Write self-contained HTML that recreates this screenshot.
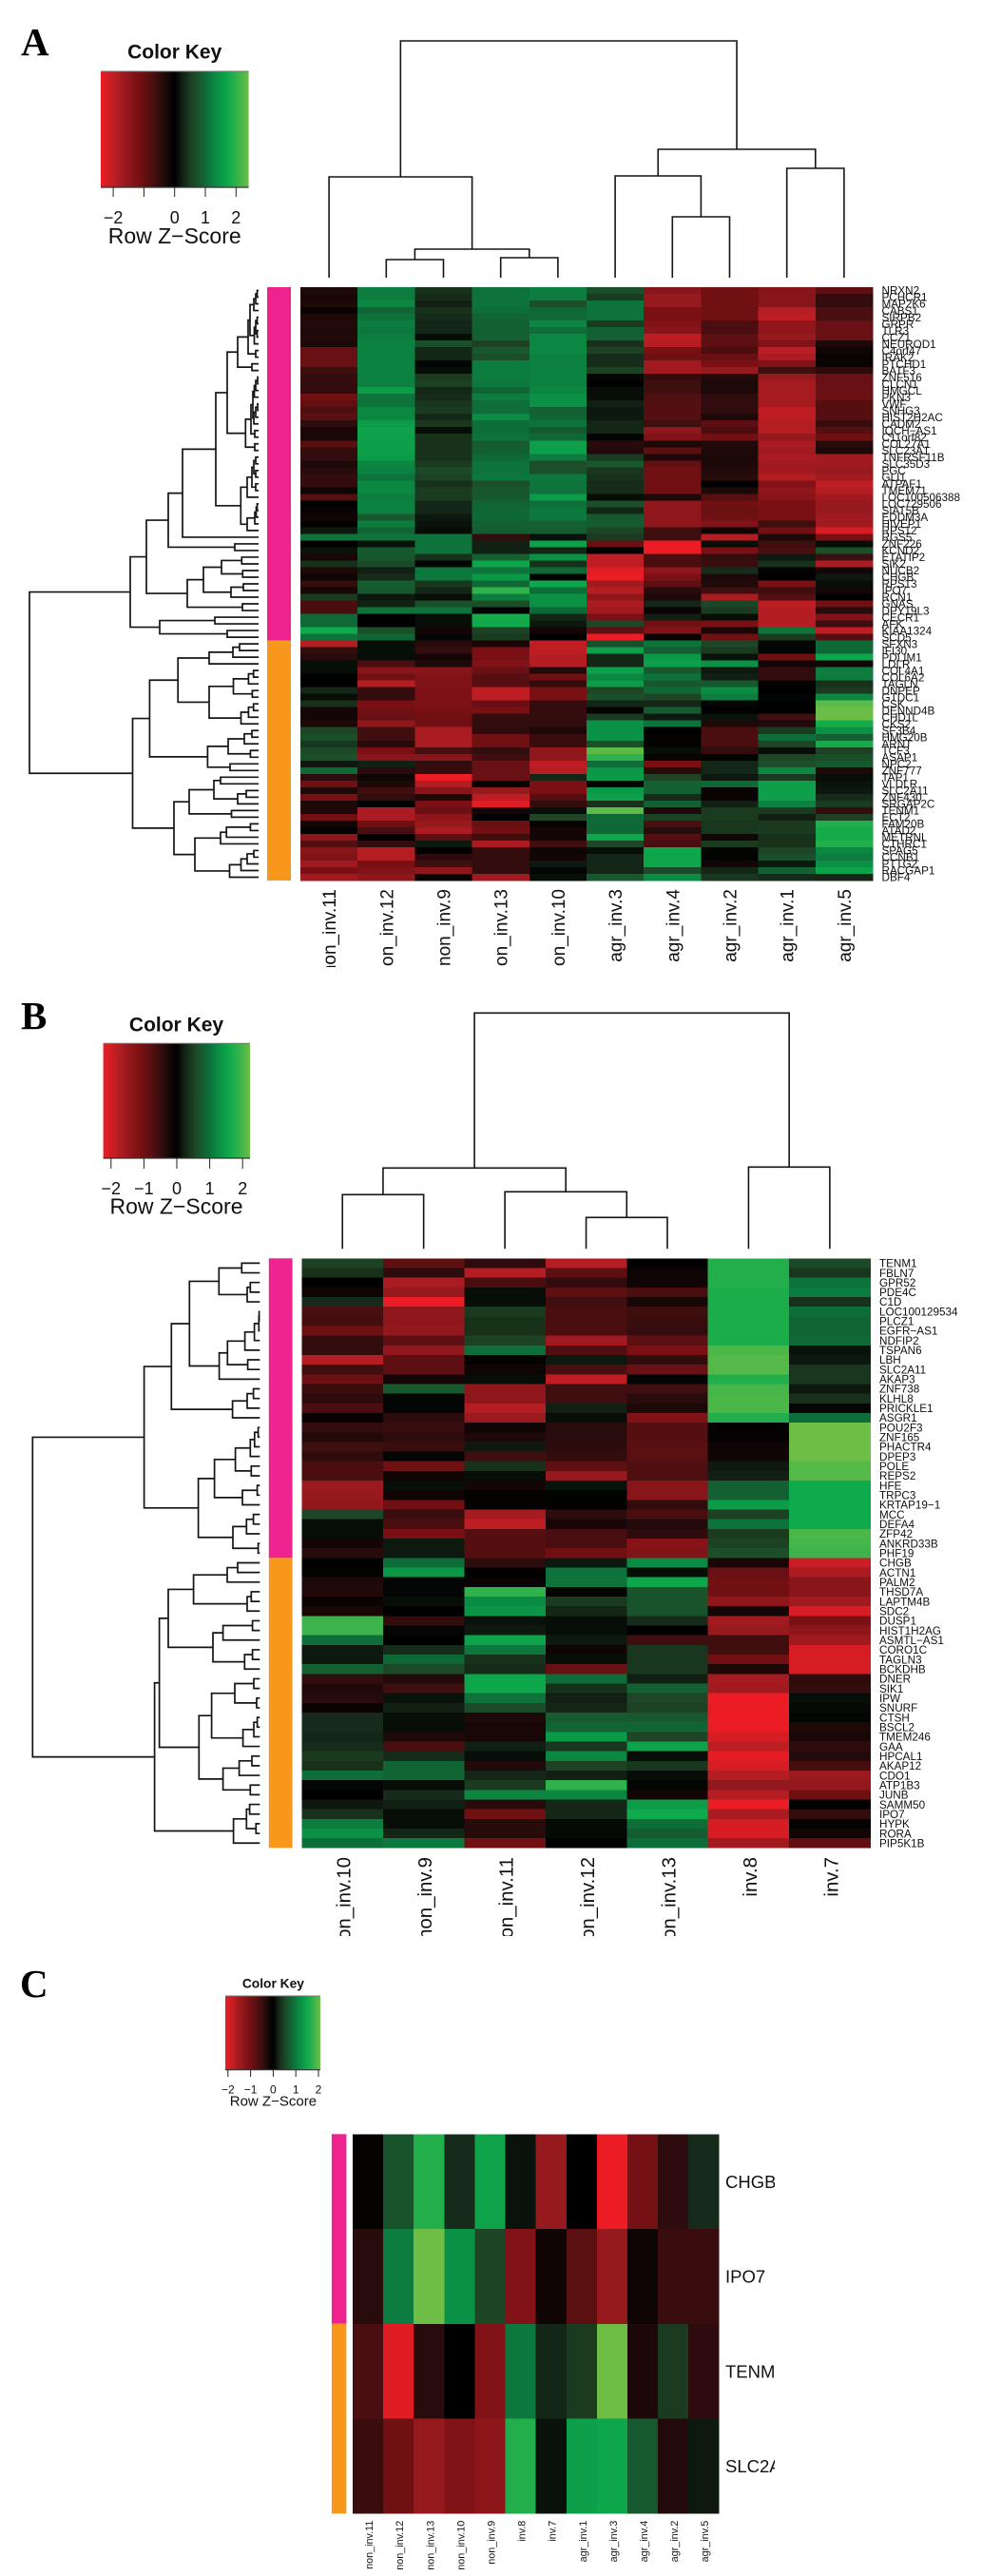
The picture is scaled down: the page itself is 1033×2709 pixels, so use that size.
<!DOCTYPE html>
<html lang="en">
<head>
<meta charset="utf-8">
<title>Heatmaps A, B and C with row and column dendrograms</title>
<style>
html,body{margin:0;padding:0;background:#fff;}
svg{display:block;font-family:"Liberation Sans",sans-serif;}
.letter{font-family:"Liberation Serif",serif;font-weight:bold;font-size:41px;fill:#000;}
</style>
</head>
<body>
<svg id="figure" width="1033" height="2709" viewBox="0 0 1033 2709">
<rect x="0" y="0" width="1033" height="2709" fill="#fff"/>
<defs id="defs">
<clipPath id="clip-cols-a"><rect x="300" y="926" width="640" height="91"/></clipPath>
<clipPath id="clip-cols-b"><rect x="300" y="1944" width="640" height="92"/></clipPath>
<clipPath id="clip-cols-c"><rect x="360" y="2644" width="410" height="59"/></clipPath>
<clipPath id="clip-rows-c"><rect x="757" y="2240" width="58" height="410"/></clipPath>
</defs>
<text class="letter" x="22" y="58">A</text>
<text class="letter" x="22" y="1082">B</text>
<text class="letter" x="21" y="2100">C</text>
</svg>
<script>
/* ---------- Panel A data ---------- */
const rowLabelsA = ["NRXN2","PCHCR1","MAP2K6","CABS1","SIRPB2","GRPR","TLR3","CCZ1","NEUROD1","C4orf47","IRAK2","PTCHD1","BATF3","ZNF516","CLCN1","HMGCL","PKN3","VWF","SNHG3","HIST2H2AC","CADM2","IQCH−AS1","C11orf82","COL27A1","SLC23A1","TNFRSF11B","SLC35D3","PGC","GLI1","ATPAF1","TMEM71","LOC100506388","LOC729506","SIAT5B","EDDM3A","HIVEP1","RPS12","RGS5","ZNF226","KCND2","ETATIP2","SIK2","NUCB2","CHGB","RPS13","IPO7","RCN1","GNAS","DPY19L3","CECR1","AFK","KIAA1324","SCD5","SFXN3","IFI30","PDLIM1","LDLR","COL4A1","COL6A2","TAGLN","DNPEP","GTDC1","CSK","DENND4B","CHD1L","CKS2","SF3B4","HMG20B","ARNT","TCF3","ASAP1","NPC2","ZNF777","TAP1","VLDLR","SLC2A11","ZNF430","SRGAP2C","TENM1","ECT2","FAM20B","ATAD2","METRNL","CTHRC1","SPAG5","CCNB1","PTTG2","RACGAP1","DBF4"];
const colLabelsA = ["non_inv.11","non_inv.12","non_inv.9","non_inv.13","non_inv.10","agr_inv.3","agr_inv.4","agr_inv.2","agr_inv.1","agr_inv.5"];
const groupCountsA = [53,36];
const keyTicksA = [-2,-1,0,1,2];
const keyTickLabelsA = ["−2","","0","1","2"];
const valuesA = [
[-.3,1.2,.4,1.1,1.2,.7,-1.4,-1.1,-1.4,-.9],
[-.25,1.2,.35,1.1,1.2,.5,-1.6,-1.1,-1.4,-.5],
[-.3,1.3,.25,1.1,.7,1.1,-1.6,-1.1,-1.4,-.5],
[-.1,.95,.4,1.05,1,1.1,-1.2,-1.1,-1.9,-.7],
[-.3,1.1,.35,.95,1,1.1,-1.2,-1.1,-2,-.7],
[-.35,1.2,.3,.9,1.3,.5,-1.3,-.7,-1.5,-1],
[-.3,1.15,.3,.9,1.05,.9,-1.4,-.7,-1.5,-1],
[-.35,1.2,.1,.9,1.3,.9,-2,-.9,-1.6,-1],
[-.3,1.25,.7,.55,1.3,.4,-1.9,-.9,-1.3,-.3],
[-1,1.25,.3,.8,1.3,.55,-1.2,-.7,-2,-.15],
[-1,1.25,.3,.7,1.25,.35,-1.1,-1,-1.8,-.1],
[-1,1.25,.05,1.2,1.25,.35,-1.7,-1.2,-1.3,-.1],
[-.6,1.25,.1,1.2,1.25,.55,-1.7,-1.6,-.6,-.45],
[-.5,1.25,.5,1.2,1.25,.05,-.5,-.35,-1.6,-1],
[-.5,1.25,.55,1.15,1.25,0,-.6,-.3,-1.75,-1],
[-.5,1.55,.3,.95,1.3,.1,-.6,-.3,-1.75,-1],
[-1.1,1.1,.35,1.2,1.4,.1,-.75,-.45,-1.75,-1.05],
[-.95,1.1,.45,1.05,1.4,.25,-.8,-.5,-1.75,-.8],
[-.75,1.3,.5,1.05,.9,.2,-.8,-.45,-2,-.8],
[-.85,1.3,.3,1.35,.95,.2,-.8,-.3,-2,-.8],
[-.45,1.55,.45,1.05,1.1,.3,-.6,-.9,-1.9,-.55],
[-.25,1.65,.1,1.05,.8,.3,-1.5,-.7,-1.9,-.8],
[-.25,1.6,.4,1.1,1,.05,-1.3,-1.1,-1.6,-1.1],
[-.85,1.6,.4,.85,1.6,-.4,-.3,-.35,-1.8,-.4],
[-.5,1.6,.4,.9,1.6,-.35,-.9,-.3,-1.7,-.3],
[-.5,1.55,.4,1,1.2,.5,-.3,-.3,-1.8,-1.7],
[-.3,1.3,.5,1.1,.7,.8,-.95,-.3,-1.7,-1.7],
[-.4,1.25,.65,1.1,.7,.45,-1.1,-.35,-1.7,-1.6],
[-.5,1.1,.55,1.15,1.15,.4,-1.1,-.4,-1.9,-1.7],
[-.5,1.3,.4,.7,1.1,.35,-1.1,0,-1.3,-2],
[-.15,1.3,.5,.8,1.1,.35,-1.1,-.3,-1.5,-1.9],
[-.8,1.2,.5,.8,1.55,.1,-.3,-.8,-1.4,-1.7],
[0,1.25,.3,.95,1.05,.7,-1.5,-1.1,-1.2,-1.6],
[-.1,1.25,.3,1,1.15,.3,-1.5,-1,-1.2,-1.6],
[-.15,.8,.2,1,1.15,.8,-1.5,-1.1,-1.2,-1.7],
[-.05,1.2,.15,.9,.9,.85,-1.5,-1.3,-.6,-1.7],
[.2,.95,.1,.85,.85,.6,-.6,-.15,-1.1,-2.2],
[1.1,1.1,1.1,-.5,.15,.5,-.6,-1.9,-.3,-1.2],
[0,.15,1.1,.25,1.6,-1,-2.4,.1,-.6,.1],
[.15,.8,1.1,.25,.3,0,-2.4,-1.2,-.7,.7],
[-.25,.8,.4,.9,1.4,-2,-.7,-.5,.2,-.6],
[.4,.65,.05,1.7,.4,-2,-.7,-.55,.4,-1.8],
[-.3,.25,1.15,1.1,1,-2.3,-1.5,.35,-.05,-.2],
[-.15,.35,1.15,1.5,.05,-2.4,-1.2,-.3,0,.2],
[-.5,.85,.45,1,1.7,-1.7,-.9,-.35,-1.2,.1],
[-.25,.8,.3,2,1.05,-1.9,-.4,-.6,-.6,-.2],
[.5,.2,.1,1.2,1.4,-1.5,-.3,-1.8,-.8,0],
[-.7,.25,.7,.7,1.4,-1.8,.3,.6,-2,-1.1],
[-.7,1.1,1.1,0,1,-1.7,-.1,.5,-1.9,-.4],
[1,0,.1,1.8,.3,-1.2,.25,.1,-1.9,-1.3],
[1,0,.1,1.75,.2,.6,-1.1,-1.2,-1.9,-.6],
[1.75,.7,-.2,.55,-.2,-.9,-1.3,-.25,1.1,-2],
[1.1,.95,.05,.5,0,-2.4,.05,-1.1,.5,-.8],
[-1.9,.1,-.4,-.25,-2,.7,1.1,.6,.05,1],
[-.5,.1,-.5,-1.2,-2,1.6,.85,.5,.05,1],
[-.4,.1,-.2,-1.2,-1.9,.3,1.5,.15,-1.1,1.7],
[.1,-.7,-.3,-1.3,-1.9,.3,1.6,1.4,-.2,-.2],
[.1,-1.4,-1.4,-1,-.35,1.6,.8,.2,-.5,1.2],
[0,-1.1,-1.3,-.8,-1.1,1.3,1.1,.25,-.5,1.2],
[0,-1.9,-1.3,-.8,-.5,1.55,.8,.8,-.05,.4],
[.3,-.5,-1.25,-2,-1.2,.6,1,1.35,0,.5],
[.1,-.5,-1.25,-2,-1.2,.7,.6,1.2,.05,1.3],
[.4,-1.2,-1.25,-1,-.5,.3,.3,.05,0,2.3],
[-.2,-1.1,-1.2,-1.2,-.5,-.05,.85,0,0,2.4],
[-.2,-1,-1.1,-.5,-.5,.5,.2,.15,-.6,2.4],
[-.3,-1.5,-1.1,-.5,-.5,1.4,1.1,-.3,-.35,1.8],
[.6,-.6,-1.8,-.45,-.3,1.4,0,-.7,.5,1.4],
[.7,-.6,-1.8,-1.1,-.55,1.4,-.05,-.7,1.05,.9],
[.45,-.4,-1.8,-1.1,-.55,.7,-.05,-.7,.6,1.8],
[.65,-1.2,-.7,-.5,-1.5,2.3,.1,-.5,.1,.55],
[.7,-1.4,-1.4,-.6,-1.5,2,-.1,-.05,.6,.7],
[.2,.25,-.5,-1,-2,1.05,-1.2,.3,.7,.8],
[1,-.4,-.5,-1,-1.9,1.5,-.4,.3,1.3,-.3],
[-.45,-.15,-2.4,-1,.3,1.5,.6,.2,.5,.1],
[-1.1,-.3,-1.9,-.05,-1.2,.05,.9,1,1.6,.15],
[-.3,-.6,-1.4,-1.6,-1.2,1.5,.9,-.1,1.6,.2],
[-1.2,-.5,-.3,-2,-.8,1.6,.35,-.1,1.6,.35],
[-.3,-.02,-1.2,-2.3,-.5,.4,.9,.25,1.25,.5],
[-.3,-1.8,-1,-.2,.1,2.3,-.3,.5,.5,-.5],
[-1.1,-1.8,-1.5,-.02,.6,1,.55,.5,.25,.55],
[-.2,-1.1,-1.6,-1,-.05,1,-.7,.45,.5,1.9],
[-.05,-.7,-1.8,-1.1,-.2,1,-.4,.45,.5,1.8],
[-1.5,0,-.9,-.6,-.2,1.7,-.8,-.2,.4,1.8],
[-.8,-.5,.2,-1.8,-.6,.6,-.7,.5,.4,1.9],
[-1.4,-1.9,0,-.5,-.15,.1,1.7,.03,.6,1.3],
[-1.3,-1.9,-.45,-.5,-.2,.3,1.7,.03,.7,1.2],
[-1.7,-1.2,-.6,-.5,.2,.3,1.7,-.2,.2,1.4],
[-1.2,-1.3,-1.5,-.5,.05,.3,.65,.3,.9,1.65],
[-1.7,-1.5,-.1,-1.7,.1,.8,1.35,.45,.35,.3]
];
const rowTreeA = [241,
 [135,
  [118,
   [95,
    [80,
     [45,
      [33,
       [22,
        [11,
         [9,
          [5,[3,[1.5,0,1],2],3],
          [4.5,[3,[1.5,4,5],[1.5,6,7]],8]],
         [3,9,10]],
        [7,11,12]],
       [13.7,
        [8,[6,[4.5,[3,[1,13,14],15],16],[5,[3,[1,17,18],19],20]],[4,21,22]],
        [4,23,24]]],
      [18.7,
       [12,[7,[5,[3,25,26],[3,27,28]],[3,29,30]],31],
       [12,[4,[2.5,[1.5,32,33],34],35],36]]],
     37],
    [25,38,39]],
   [75,
    [58,
     [39,[17.7,40,41],[16.7,42,43]],
     [29,[16,44,45],46]],
    [17,47,48]]],
  [104,[46,49,50],[33,51,52]]],
 [132.5,
  [114.6,
   [84.8,
    [52,[27,[20,53,54],55],56],
    [52,
     [26.5,[10.6,[5.3,57,58],59],[6.6,60,61]],
     [18.5,[10.6,[5.3,62,63],64],65]]],
   [53.6,
    [32,[15,[7,66,67],68],[8.6,69,70]],
    [30,71,72]]],
  [89,
   [73,
    [47,[40,73,74],[22,[13,75,76],77]],
    [28.5,78,79]],
   [67,
    [40,[33.8,[8.6,80,81],82],83],
    [30.5,[18.5,[12,[5,84,85],86],87],88]]]]];
const colTreeA = [249,[106,0,[30,[19,1,2],[21,3,4]]],[135,[107,5,[64,6,7]],[115,8,9]]];

/* ---------- Panel B data ---------- */
const rowLabelsB = ["TENM1","FBLN7","GPR52","PDE4C","C1D","LOC100129534","PLCZ1","EGFR−AS1","NDFIP2","TSPAN6","LBH","SLC2A11","AKAP3","ZNF738","KLHL8","PRICKLE1","ASGR1","POU2F3","ZNF165","PHACTR4","DPEP3","POLE","REPS2","HFE","TRPC3","KRTAP19−1","MCC","DEFA4","ZFP42","ANKRD33B","PHF19","CHGB","ACTN1","PALM2","THSD7A","LAPTM4B","SDC2","DUSP1","HIST1H2AG","ASMTL−AS1","CORO1C","TAGLN3","BCKDHB","DNER","SIK1","IPW","SNURF","CTSH","BSCL2","TMEM246","GAA","HPCAL1","AKAP12","CDO1","ATP1B3","JUNB","SAMM50","IPO7","HYPK","RORA","PIP5K1B"];
const colLabelsB = ["non_inv.10","non_inv.9","non_inv.11","non_inv.12","non_inv.13","inv.8","inv.7"];
const groupCountsB = [31,30];
const keyTicksB = [-2,-1,0,1,2];
const keyTickLabelsB = ["−2","−1","0","1","2"];
const valuesB = [
[.55,-.9,-.45,-1.9,0,1.9,.65],
[.4,-.45,-1.9,-.9,-.15,1.9,.45],
[0,-1.8,-.7,-.5,-.15,1.9,1.1],
[-.15,-1.6,.1,-.9,-.7,1.85,1.2],
[.35,-2.4,.1,-.6,-.25,1.85,.4],
[-.7,-1.5,.5,-.7,-.6,1.85,1.05],
[-.65,-1.5,.4,-.7,-.55,1.85,.95],
[-1.1,-1.55,.4,-.7,-.5,1.85,.95],
[-.5,-.9,.55,-1.7,-.9,1.85,1],
[-.5,-1.55,1.05,-.75,-1.2,2.2,.15],
[-1.9,-.9,-.05,.2,-.5,2.25,.2],
[-.6,-.9,-.15,-.7,-1,2.25,.45],
[-1.05,-.2,.1,-2,.05,1.9,.45],
[-.55,.8,-1.5,-.6,-.6,2.15,.2],
[-.45,.05,-1.5,-.6,-.4,2.2,.4],
[-.7,.05,-1.9,.25,-.3,2.2,.05],
[-.1,-.45,-1.65,.1,-1.3,1.9,1.05],
[-.5,-.55,-.15,-.4,-.8,-.03,2.45],
[-.35,-.45,-.3,-.4,-.8,-.03,2.45],
[-.6,-.55,.2,-.45,-.85,-.15,2.45],
[-.45,.05,-.6,-.5,-.85,-.15,2.45],
[-.7,-1.1,.4,-.9,-.75,.2,2.25],
[-.7,-.15,.1,-1.6,-.75,.25,2.25],
[-1.65,.1,-.2,.15,-1.4,.9,1.75],
[-1.6,-.15,-.05,.02,-1.4,.9,1.75],
[-1.55,-1.1,-.05,-.03,-.5,1.55,1.75],
[.6,-.55,-1.75,-.45,-.7,.55,1.75],
[.1,-.7,-2,-.25,-.35,1.1,1.75],
[.1,-1.2,-.8,-.7,-.45,.5,2.2],
[-.2,.2,-.8,-.7,-1.35,.55,2.15],
[-.4,.2,-.8,-1.1,-1.3,.7,2.1],
[-.02,1.05,-.45,.2,1.35,-.25,-2.1],
[-.05,1.5,0,1.1,.1,-1,-1.8],
[-.3,.05,-.1,1.1,1.7,-1.1,-1.4],
[-.35,.05,2,.05,.75,-1.1,-1.4],
[-.1,.1,1.35,.5,.75,-1.5,-1.7],
[-.25,0,1.45,.3,.75,-.2,-2.2],
[2.1,-.5,.15,.1,.35,-1.7,-1.2],
[2.1,.05,.2,.1,0,-1.6,-1.5],
[1.05,0,1.65,.2,-.6,-.6,-1.7],
[.2,.35,1.15,-.15,.45,-.6,-2.2],
[.2,1,.4,.1,.45,-1.1,-2.2],
[.9,.65,.35,-1,.45,-.3,-2.2],
[-.5,-.35,1.7,1.05,.25,-1.75,-.45],
[-.35,-.6,1.7,.4,.9,-1.7,-.5],
[-.4,.15,1.1,.25,.6,-2.4,.1],
[-.1,.25,.65,.3,.55,-2.4,.08],
[.35,.1,-.3,.85,.8,-2.4,.05],
[.35,.1,-.25,.95,.95,-2.4,-.3],
[.3,-.3,-.25,1.5,.6,-2.2,-.25],
[.35,-.7,.25,.45,1.65,-2,-.45],
[.5,.35,.1,1.3,.1,-2.35,-.35],
[.4,.95,-.35,.55,.45,-2.2,-.65],
[1.05,.95,.3,.25,.1,-1.9,-1.65],
[.05,.1,.5,2,.05,-1.55,-1.55],
[0,.35,1.3,1.3,-.2,-1.9,-1.1],
[.2,.25,-.4,.3,1.55,-2.4,0],
[.4,.1,-1.1,.3,1.75,-1.8,-.5],
[1.2,.1,-.4,.08,1.05,-2.2,-.05],
[1.4,.3,-.4,.08,.85,-2.2,-.2],
[1.05,1.15,-1.1,0,1.05,-1.7,-.95]
];
const rowTreeB = [239,
 [121.7,
  [93,
   [74,
    [43,[19,0,1],[13.3,[10,2,3],4]],
    [42.7,
     [34,[15.7,[5.7,[1,[.7,5,6],7],8],9],[12.7,10,11]],
     12]],
   [28.7,[13.3,[6.7,13,14],15],16]],
  [64.7,
   [47.7,
    [25.7,[10,[5.5,[1.7,17,18],19],20],[9,21,22]],
    [18.3,[2.7,23,24],25]],
   [28.3,[14,[6.7,26,27],28],[1.7,29,30]]]],
 [110.7,
  [105.7,
   [96.3,
    [69.7,
     [34.3,[23.3,31,32],33],
     [13.3,[9,34,35],36]],
    [49.3,
     [38.7,[7.7,37,38],39],
     [16,[7.7,40,41],42]]],
   [64,
    [50.7,
     [26.3,[6.3,43,44],[3.3,45,46]],
     [17.7,[6.3,[2.7,47,48],49],50]],
    [38.7,
     [21.7,[8.3,51,52],53],
     [10,54,55]]]],
  [27.7,[14,[10.7,56,57],[4,58,59]],60]]];
const colTreeB = [248,[85,[57,0,1],[60,2,[33,3,4]]],[86,5,6]];

/* ---------- Panel C data ---------- */
const rowLabelsC = ["CHGB","IPO7","TENM1","SLC2A11"];
const colLabelsC = ["non_inv.11","non_inv.12","non_inv.13","non_inv.10","non_inv.9","inv.8","inv.7","agr_inv.1","agr_inv.3","agr_inv.4","agr_inv.2","agr_inv.5"];
const groupCountsC = [2,2];
const keyTicksC = [-2,-1,0,1,2];
const keyTickLabelsC = ["−2","−1","0","1","2"];
const valuesC = [
[-.05,.75,1.9,.35,1.65,.15,-1.6,0,-2.4,-1.15,-.45,.35],
[-.4,1.2,2.45,1.4,.6,-1.3,-.15,-.85,-1.6,-.15,-.55,-.55],
[-.7,-2.3,-.4,0,-1.3,1.15,.3,.5,2.45,-.3,.5,-.45],
[-.55,-1.1,-1.6,-1.3,-1.45,1.9,.15,1.6,1.7,.8,-.35,.2]
];

/* ---------- Colour scale ---------- */
const colourDomain = [-2.41,-2,-1.6,-1.2,-.8,-.4,0,.3,.6,1,1.4,1.75,2.1,2.41];
const colourRange = [[237,28,36],[190,30,35],[150,25,30],[122,16,20],[85,15,17],[40,12,12],[0,0,0],[20,38,22],[30,70,38],[15,105,55],[10,145,70],[15,170,75],[60,180,75],[110,190,70]];
const groupColours = ["#ee2390","#f7981d"];

function colourOf(v){
  const d = colourDomain, r = colourRange;
  const c = Math.max(d[0], Math.min(d[d.length-1], v));
  let i = 0;
  while(i < d.length-2 && c > d[i+1]) i++;
  const t = (c-d[i])/(d[i+1]-d[i]);
  return "rgb("+[0,1,2].map(k=>Math.round(r[i][k]+(r[i+1][k]-r[i][k])*t)).join(",")+")";
}

const svg = document.getElementById("figure");
const NS = svg.namespaceURI;
function make(tag, parent, attrs, text){
  const el = document.createElementNS(NS, tag);
  for(const k in attrs) el.setAttribute(k, attrs[k]);
  if(text !== undefined) el.textContent = text;
  parent.appendChild(el);
  return el;
}

function drawTree(tree, parent, position, edge, dir, width, name){
  let count = 0;
  function walk(n){
    if(typeof n === "number") return {p: position(n), h: 0};
    const a = walk(n[1]), b = walk(n[2]), h = n[0];
    let d;
    if(dir === "left"){
      d = "M"+(edge-a.h)+" "+a.p+"L"+(edge-h)+" "+a.p+"L"+(edge-h)+" "+b.p+"L"+(edge-b.h)+" "+b.p;
    } else {
      d = "M"+a.p+" "+(edge-a.h)+"L"+a.p+" "+(edge-h)+"L"+b.p+" "+(edge-h)+"L"+b.p+" "+(edge-b.h);
    }
    const el = make("path", parent, {d:d, fill:"none", stroke:"#141414", "stroke-width":width, "stroke-linejoin":"miter"});
    
    
    return {p:(a.p+b.p)/2, h:h};
  }
  walk(tree);
}

function drawPanel(p){
  const g = make("g", svg, {});
  
  

  const nRows = p.values.length, nCols = p.values[0].length;
  const rowH = (p.y1-p.y0)/nRows, colW = (p.x1-p.x0)/nCols;
  const rowY = i => p.y0 + i*rowH;
  const colX = j => p.x0 + j*colW;
  const rowMid = i => rowY(i)+rowH/2;
  const colMid = j => colX(j)+colW/2;
  const keyX = v => p.key.mid + v*p.key.unit;

  /* heatmap cells */
  const heat = make("g", g, {"shape-rendering":"crispEdges"});
  
  
  p.values.forEach((row,i)=>row.forEach((v,j)=>{
    const cell = make("rect", heat, {x:colX(j), y:rowY(i), width:colW+.4, height:rowH+.4, fill:colourOf(v)});
    
    
  }));

  /* sidebar groups */
  let start = 0;
  p.groups.forEach((count,k)=>{
    const bar = make("rect", g, {x:p.side[0], y:rowY(start), width:p.side[1]-p.side[0], height:count*rowH, fill:groupColours[k]});
    
    
    start += count;
  });

  /* row labels */
  p.rowLabels.forEach((t,i)=>{
    const attrs = {x:p.rowLabelX, y:rowMid(i)+p.rowFont*.36, "font-size":p.rowFont, fill:"#111"};
    if(p.rowClip) attrs["clip-path"] = "url(#"+p.rowClip+")";
    const el = make("text", g, attrs, t);
    
    
  });

  /* column labels */
  const colGroup = make("g", g, {"clip-path":"url(#"+p.colClip+")"});
  
  
  p.colLabels.forEach((t,j)=>{
    const bx = colMid(j)+p.colBase;
    const el = make("text", colGroup, {transform:"translate("+bx+" "+p.colTop+") rotate(-90)", "text-anchor":"end", "font-size":p.colFont, fill:"#111"}, t);
    
    
  });

  /* dendrograms */
  if(p.rowTree){
    const rg = make("g", g, {});
    
    
    drawTree(p.rowTree, rg, rowMid, p.rowEdge, "left", 1.7, 'row-dendrogram-'+p.id);
    const cg = make("g", g, {});
    
    
    drawTree(p.colTree, cg, colMid, p.colEdge, "top", 1.6, 'column-dendrogram-'+p.id);
  }

  /* colour key */
  const k = p.key;
  const keyGroup = make("g", g, {});
  
  
  const grad = make("linearGradient", document.getElementById("defs"), {id:"grad-"+p.id, x1:"0", x2:"1", y1:"0", y2:"0"});
  
  
  for(let s=0;s<=40;s++){
    const stop = make("stop", grad, {offset:s/40, "stop-color":colourOf(-2.41+4.82*s/40)});
    
    
  }
  const keyRect = make("rect", keyGroup, {x:k.x0, y:k.y0, width:k.x1-k.x0, height:k.y1-k.y0, fill:"url(#grad-"+p.id+")"});
  
  
  const keyTop = make("line", keyGroup, {x1:k.x0, x2:k.x1, y1:k.y0, y2:k.y0, stroke:"#777", "stroke-width":1});
  
  
  const keyBottom = make("line", keyGroup, {x1:k.x0, x2:k.x1, y1:k.y1, y2:k.y1, stroke:"#333", "stroke-width":1.2});
  
  
  p.keyTicks.forEach((v,i)=>{
    const tick = make("line", keyGroup, {x1:keyX(v), x2:keyX(v), y1:k.y1, y2:k.tickEnd, stroke:"#222", "stroke-width":1});
    
    
    if(p.keyLabels[i]){
      const lab = make("text", keyGroup, {x:keyX(v), y:k.labelY, "text-anchor":"middle", "font-size":k.labelFont, fill:"#111"}, p.keyLabels[i]);
      
      
    }
  });
  const title = make("text", keyGroup, {x:k.titleX, y:k.titleY, "text-anchor":"middle", "font-size":k.titleFont, "font-weight":"bold", fill:"#111"}, "Color Key");
  
  
  const axisTitle = make("text", keyGroup, {x:k.titleX, y:k.axisY, "text-anchor":"middle", "font-size":k.axisFont, fill:"#111"}, "Row Z−Score");
  
  
}

drawPanel({id:"a", values:valuesA, rowLabels:rowLabelsA, colLabels:colLabelsA, groups:groupCountsA, rowTree:rowTreeA, colTree:colTreeA, keyTicks:keyTicksA, keyLabels:keyTickLabelsA,
  x0:316, x1:918, y0:302, y1:926, side:[281,306], rowEdge:272, colEdge:292,
  rowLabelX:927.5, rowFont:11.7, colTop:935, colBase:7, colFont:19, colClip:"clip-cols-a",
  key:{x0:106,x1:261.6,y0:75,y1:197,mid:183.7,unit:32.3,tickEnd:207,labelY:235,labelFont:18,titleX:183.7,titleY:61.5,titleFont:21,axisY:256,axisFont:23}});

drawPanel({id:"b", values:valuesB, rowLabels:rowLabelsB, colLabels:colLabelsB, groups:groupCountsB, rowTree:rowTreeB, colTree:colTreeB, keyTicks:keyTicksB, keyLabels:keyTickLabelsB,
  x0:317.5, x1:915.6, y0:1323.3, y1:1943.3, side:[282.8,307.6], rowEdge:273.3, colEdge:1313.3,
  rowLabelX:925, rowFont:11.7, colTop:1953, colBase:8.5, colFont:20.4, colClip:"clip-cols-b",
  key:{x0:108.6,x1:263,y0:1097.3,y1:1218,mid:186,unit:34.6,tickEnd:1229,labelY:1256,labelFont:18,titleX:185.5,titleY:1084.5,titleFont:21,axisY:1276.7,axisFont:23}});

drawPanel({id:"c", values:valuesC, rowLabels:rowLabelsC, colLabels:colLabelsC, groups:groupCountsC, keyTicks:keyTicksC, keyLabels:keyTickLabelsC,
  x0:371, x1:756.3, y0:2244.3, y1:2643.3, side:[348.9,364.4],
  rowLabelX:763, rowFont:18.5, rowClip:"clip-rows-c", colTop:2650.7, colBase:5, colFont:10.8, colClip:"clip-cols-c",
  key:{x0:237,x1:337,y0:2099,y1:2176.7,mid:287.4,unit:23.8,tickEnd:2184,labelY:2201.7,labelFont:12,titleX:287.4,titleY:2090.7,titleFont:13.8,axisY:2214.3,axisFont:15}});
</script>
</body>
</html>
